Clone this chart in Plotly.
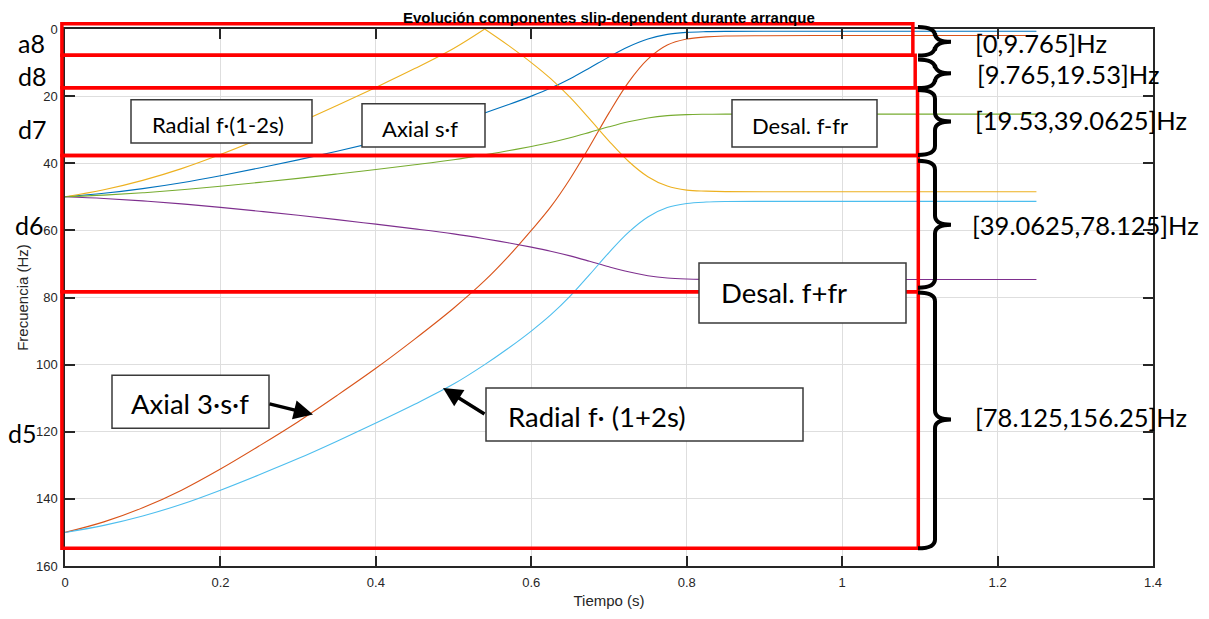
import plotly.graph_objects as go

# ---------------- data ----------------
t = [0, 0.05, 0.1, 0.15, 0.2, 0.25, 0.3, 0.35, 0.4, 0.45, 0.5, 0.54, 0.57, 0.6,
     0.625, 0.65, 0.675, 0.7, 0.725, 0.75, 0.775, 0.8, 0.825, 0.85, 0.9, 1.0, 1.1, 1.25]

axial_sf = [50, 48.95, 47.55, 45.8, 43.7, 41.4, 39.0, 36.4, 33.7, 30.9, 27.9, 25.0, 22.6, 20.0,
            17.6, 14.8, 11.6, 8.3, 5.3, 3.0, 1.6, 1.0, 0.78, 0.7, 0.67, 0.66, 0.66, 0.66]
axial_3sf = [150, 146.85, 142.65, 137.4, 131.1, 124.2, 117.0, 109.2, 101.1, 92.4, 83.2, 75.0, 67.9, 60.0,
             53.0, 44.6, 35.0, 25.0, 15.9, 9.0, 4.8, 3.0, 2.35, 2.1, 2.0, 1.95, 1.95, 1.95]
radial_1m2s = [50, 47.9, 45.1, 41.6, 37.4, 32.8, 28.0, 22.8, 17.4, 11.8, 5.8, 0.0, 4.8, 10.0,
               14.8, 20.4, 26.8, 33.4, 39.4, 44.0, 46.8, 48.0, 48.3, 48.45, 48.5, 48.5, 48.5, 48.5]
desal_ffr_plus = [50, 50.5, 51.2, 52.1, 53.15, 54.3, 55.5, 56.8, 58.15, 59.55, 61.05, 62.5, 63.7, 65.0,
                  66.2, 67.6, 69.2, 70.85, 72.35, 73.5, 74.2, 74.5, 74.6, 74.65, 74.65, 74.65, 74.65, 74.65]
desal_ffr_minus = [50, 49.5, 48.8, 47.9, 46.85, 45.7, 44.5, 43.2, 41.85, 40.45, 38.95, 37.5, 36.3, 35.0,
                   33.8, 32.4, 30.8, 29.15, 27.65, 26.5, 25.8, 25.5, 25.4, 25.35, 25.35, 25.35, 25.35, 25.35]
radial_1p2s = [150, 147.9, 145.1, 141.6, 137.4, 132.8, 128.0, 122.8, 117.4, 111.8, 105.8, 100.0, 95.2, 90.0,
               85.2, 79.6, 73.2, 66.6, 60.6, 56.0, 53.2, 52.0, 51.56, 51.4, 51.35, 51.35, 51.35, 51.35]

series_names = ["Axial s·f", "Axial 3·s·f", "Radial f·(1-2s)", "Desal. f+fr", "Desal. f-fr", "Radial f·(1+2s)"]
series_values = [axial_sf, axial_3sf, radial_1m2s, desal_ffr_plus, desal_ffr_minus, radial_1p2s]
series_colors = ["#0072BD", "#D95319", "#EDB120", "#7E2F8E", "#77AC30", "#4DBEEE"]

x_ticks = [0, 0.2, 0.4, 0.6, 0.8, 1.0, 1.2, 1.4]
x_tick_labels = ["0", "0.2", "0.4", "0.6", "0.8", "1", "1.2", "1.4"]
y_ticks = [0, 20, 40, 60, 80, 100, 120, 140, 160]

# wavelet band limits as drawn (Hz) and their labels
band_edges_drawn = [-1.6, 7.8, 17.5, 37.7, 78.3, 154.7]
band_names = ["a8", "d8", "d7", "d6", "d5"]
band_ranges = ["[0,9.765]Hz", "[9.765,19.53]Hz", "[19.53,39.0625]Hz", "[39.0625,78.125]Hz", "[78.125,156.25]Hz"]

# ---------------- layout geometry ----------------
W, H = 1209, 619
ML, MR, MT, MB = 65, 56, 29, 44
PW, PH = W - ML - MR, H - MT - MB
XR = [0, 1.4]
YR = [160, 0]


def pxp(p):  # pixel x -> paper
    return (p - ML) / PW


def pyp(p):  # pixel y -> paper
    return (H - MB - p) / PH


def dxp(v):  # data x -> paper
    return (v - XR[0]) / (XR[1] - XR[0])


def dyp(v):  # data y -> paper
    return (v - YR[0]) / (YR[1] - YR[0])


fig = go.Figure()
for name, vals, col in zip(series_names, series_values, series_colors):
    if name == "Radial f·(1-2s)":
        k = vals.index(min(vals))  # sharp V: draw the two branches separately
        parts = [(t[:k + 1], vals[:k + 1]), (t[k:], vals[k:])]
    else:
        parts = [(t, vals)]
    for xs, ys in parts:
        fig.add_trace(go.Scatter(x=xs, y=ys, mode="lines", name=name, showlegend=False,
                                 line=dict(color=col, width=1.1, shape="spline", smoothing=1.0)))

shapes = []
# red band rectangles
right_edges = [1.091, 1.094, 1.097, 1.098, 1.098]
for i in range(5):
    shapes.append(dict(type="rect", xref="paper", yref="paper",
                       x0=dxp(-0.004), x1=dxp(right_edges[i]),
                       y0=dyp(band_edges_drawn[i]), y1=dyp(band_edges_drawn[i + 1]),
                       line=dict(color="#ff0000", width=3.5), fillcolor="rgba(0,0,0,0)", layer="above"))

# white label boxes (pixel geometry): text, box x0,y0,x1,y1, text anchor x, text y, align, font size
boxes = [
    ("Radial f·(1-2s)", 131, 101, 312, 145, 218, 126, "center", 22),
    ("Axial s·f", 362, 105, 485, 149, 420, 130, "center", 22),
    ("Desal. f-fr", 732, 101, 877, 149, 800, 127, "center", 22),
    ("Desal. f+fr", 699, 267, 906, 328, 719, 297, "left", 27.5),
    ("Axial 3·s·f", 112, 381, 269, 435, 190, 410, "center", 27.5),
    ("Radial f· (1+2s)", 486, 394, 803, 448, 506, 423, "left", 27.5),
]
for (_, x0, y0, x1, y1, _, _, _, _) in boxes:
    shapes.append(dict(type="rect", xref="paper", yref="paper",
                       x0=pxp(x0), x1=pxp(x1), y0=pyp(y1), y1=pyp(y0),
                       line=dict(color="#3a3a3a", width=1.5), fillcolor="white", layer="above"))


# curly braces
def brace(y0, y1, ym, xl=918, xs=935, xt=951, r=9):
    pts = [
        ("M", [(xl, y0)]),
        ("Q", [(xs, y0), (xs, y0 + r)]),
        ("L", [(xs, ym - r)]),
        ("Q", [(xs, ym), (xt, ym)]),
        ("M", [(xt, ym)]),
        ("Q", [(xs, ym), (xs, ym + r)]),
        ("L", [(xs, y1 - r)]),
        ("Q", [(xs, y1), (xl, y1)]),
    ]
    s = ""
    for cmd, ps in pts:
        s += cmd + " " + " ".join(f"{pxp(a):.5f},{pyp(b):.5f}" for a, b in ps) + " "
    return s.strip()


brace_pix = [(27, 56, 42), (60, 89, 74), (91, 157, 123), (163, 292, 228), (297, 557, 426)]
for y0, y1, ym in brace_pix:
    shapes.append(dict(type="path", xref="paper", yref="paper", path=brace(y0, y1, ym),
                       line=dict(color="black", width=4), layer="above"))

annotations = []
FONT_CAL = "Lato, Carlito, Calibri, sans-serif"
for (txt, _, _, _, _, tx, ty, al, fs) in boxes:
    annotations.append(dict(xref="paper", yref="paper", x=pxp(tx), y=pyp(ty),
                            text=txt, showarrow=False, xanchor=al, yanchor="middle",
                            font=dict(family=FONT_CAL, size=fs, color="black")))

# band names on the left
left_pos = [(16, 43), (16, 77), (16, 131), (13, 228), (6, 440)]
for name, (lx, ly) in zip(band_names, left_pos):
    annotations.append(dict(xref="paper", yref="paper", x=pxp(lx), y=pyp(ly), text=name,
                            showarrow=False, xanchor="left", yanchor="middle",
                            font=dict(family=FONT_CAL, size=25, color="black")))
# frequency ranges on the right
right_pos = [(973, 43), (975, 75), (973, 122), (970, 228), (973, 424)]
for txt, (rx, ry) in zip(band_ranges, right_pos):
    annotations.append(dict(xref="paper", yref="paper", x=pxp(rx), y=pyp(ry), text=txt,
                            showarrow=False, xanchor="left", yanchor="middle",
                            font=dict(family=FONT_CAL, size=25.5, color="black")))

# arrows
arrows = [((313, 421), (268, 410)), ((443, 394), (486, 421))]
for (hx, hy), (tx, ty) in arrows:
    annotations.append(dict(xref="paper", yref="paper", x=pxp(hx), y=pyp(hy), ax=tx - hx, ay=ty - hy,
                            text="", showarrow=True, arrowhead=2, arrowsize=1.1, arrowwidth=3.5,
                            arrowcolor="black", standoff=0, startstandoff=0))

# title
annotations.append(dict(xref="paper", yref="paper", x=pxp(609), y=pyp(17),
                        text="<b>Evolución componentes slip-dependent durante arranque</b>",
                        showarrow=False, xanchor="center", yanchor="middle",
                        font=dict(family="Liberation Sans, Arial, sans-serif", size=15, color="black")))

axis_common = dict(showgrid=True, gridcolor="#dedede", gridwidth=1, showline=True, linecolor="#262626",
                   linewidth=1.5, mirror="ticks", ticks="inside", ticklen=10, tickwidth=1.6,
                   tickcolor="#262626", zeroline=False,
                   tickfont=dict(family="Liberation Sans, Arial, sans-serif", size=13, color="#262626"))

fig.update_layout(
    width=W, height=H, margin=dict(l=ML, r=MR, t=MT, b=MB),
    paper_bgcolor="white", plot_bgcolor="white", showlegend=False,
    shapes=shapes, annotations=annotations,
    xaxis=dict(range=XR, tickvals=x_ticks, ticktext=x_tick_labels, ticklabelstandoff=4,
               title=dict(text="Tiempo (s)", standoff=6,
                          font=dict(family="Liberation Sans, Arial, sans-serif", size=15, color="#262626")),
               **axis_common),
    yaxis=dict(range=YR, tickvals=y_ticks, ticklabelstandoff=3,
               title=dict(text="Frecuencia (Hz)", standoff=4,
                          font=dict(family="Liberation Sans, Arial, sans-serif", size=15, color="#262626")),
               **axis_common),
)

fig.write_html("out.html")
